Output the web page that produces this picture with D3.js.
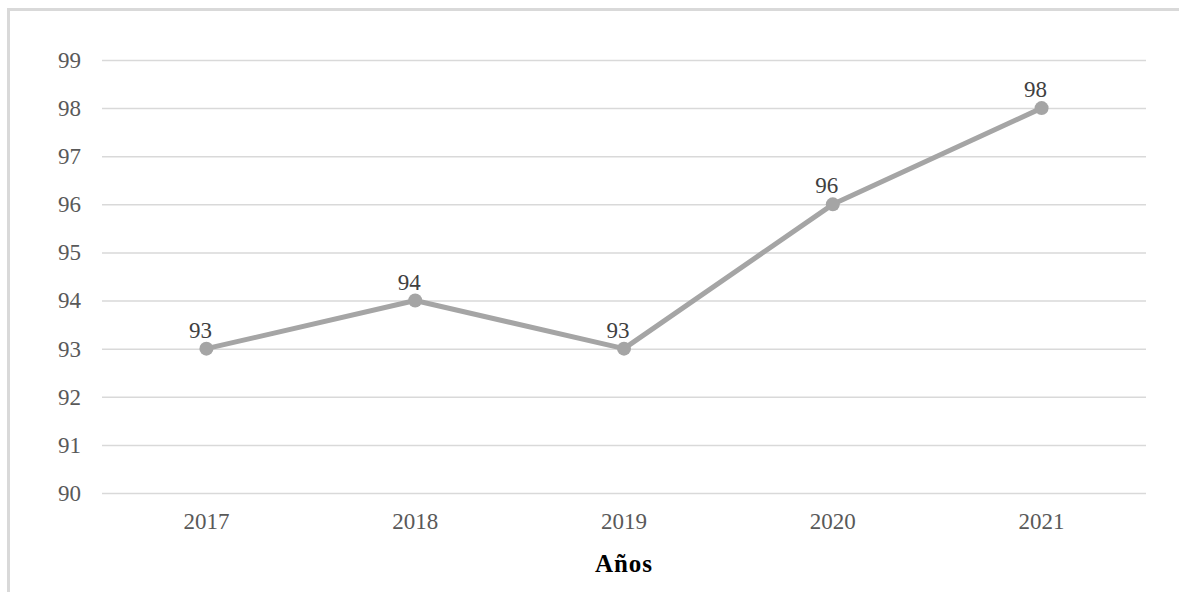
<!DOCTYPE html>
<html><head><meta charset="utf-8">
<script src="https://cdn.jsdelivr.net/npm/d3@7"></script>
<style>body{margin:0;background:#fff;}svg{display:block;}</style>
</head><body>
<svg id="chart" width="1179" height="592"></svg>
<script>
const years = ["2017","2018","2019","2020","2021"];
const values = [93, 94, 93, 96, 98];
const yTicks = [90,91,92,93,94,95,96,97,98,99];
const xTitle = "Años";

const svg = d3.select("#chart");
const W = 1179, H = 592;
const m = {left:102, right:33, top:60, bottom:99};
const iw = W - m.left - m.right, ih = H - m.top - m.bottom;

svg.append("rect").attr("x",8.5).attr("y",9.5).attr("width",W+10).attr("height",H+10)
  .attr("fill","#fff").attr("stroke","#d9d9d9").attr("stroke-width",3);

const x = d3.scaleBand().domain(years).range([m.left, m.left+iw]);
const y = d3.scaleLinear().domain([90,99]).range([m.top+ih, m.top]);

const font = "'Liberation Serif','Times New Roman',serif";

// gridlines
const gy = svg.append("g").attr("transform",`translate(${m.left},0)`)
  .call(d3.axisLeft(y).tickValues(yTicks).tickSize(-iw).tickFormat(""));
gy.select(".domain").remove();
gy.selectAll("line").attr("stroke","#d9d9d9").attr("stroke-width",1.5);

// y labels
const ya = svg.append("g").attr("transform",`translate(${m.left},0)`)
  .call(d3.axisLeft(y).tickValues(yTicks).tickSize(0).tickPadding(21));
ya.select(".domain").remove();
ya.selectAll("text").attr("font-family",font).attr("font-size",23).attr("fill","#595959");

// x labels
const xa = svg.append("g").attr("transform",`translate(0,${m.top+ih})`)
  .call(d3.axisBottom(x).tickSize(0).tickPadding(20));
xa.select(".domain").remove();
xa.selectAll("text").attr("font-family",font).attr("font-size",23).attr("fill","#595959");

svg.append("text").attr("x", m.left+iw/2).attr("y", 572).attr("text-anchor","middle")
  .attr("font-family",font).attr("font-size",25).attr("font-weight","bold").attr("fill","#000")
  .attr("letter-spacing","1px").text(xTitle);

const pts = years.map((yr,i)=>({yr, v:values[i]}));
const cx = d => x(d.yr) + x.bandwidth()/2;

svg.append("path").datum(pts)
  .attr("d", d3.line().x(cx).y(d=>y(d.v)))
  .attr("fill","none").attr("stroke","#a5a5a5").attr("stroke-width",5).attr("stroke-linejoin","round").attr("stroke-linecap","round");

svg.selectAll("circle.pt").data(pts).enter().append("circle")
  .attr("cx",cx).attr("cy",d=>y(d.v)).attr("r",7).attr("fill","#a5a5a5");

svg.selectAll("text.lbl").data(pts).enter().append("text")
  .attr("x",d=>cx(d)-6).attr("y",d=>y(d.v)-11).attr("text-anchor","middle")
  .attr("font-family",font).attr("font-size",23).attr("fill","#404040")
  .text(d=>d.v);
</script>
</body></html>
